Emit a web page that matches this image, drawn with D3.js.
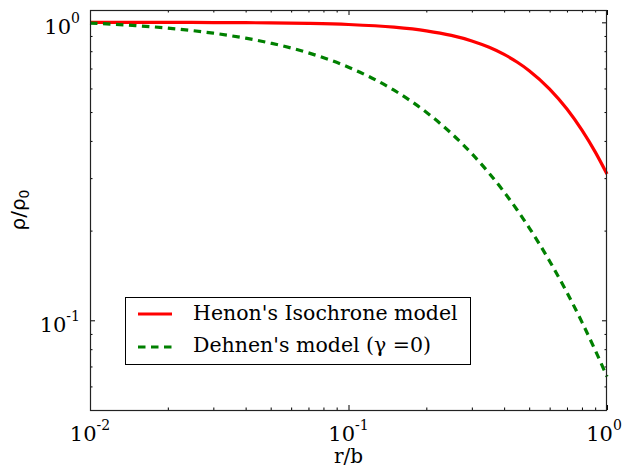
<!DOCTYPE html>
<html><head><meta charset="utf-8">
<script src="https://cdn.jsdelivr.net/npm/d3@7"></script>
<style>body{margin:0;background:#fff}svg{display:block}</style>
</head><body>
<svg id="c" width="628" height="471"></svg>
<script>
// Data
const radius = [0.01, 0.015, 0.02, 0.03, 0.04, 0.05, 0.07, 0.1, 0.15, 0.2, 0.25, 0.3, 0.35, 0.4, 0.45, 0.5, 0.6, 0.7, 0.8, 0.9, 1.0];
const henonDensity = [0.9998, 0.9996, 0.9993, 0.9985, 0.9974, 0.9959, 0.9919, 0.9836, 0.9636, 0.9367, 0.9038, 0.8660, 0.8244, 0.7803, 0.7345, 0.6882, 0.5970, 0.5116, 0.4347, 0.3674, 0.3096];
const dehnenDensity = [0.9946, 0.9751, 0.9562, 0.9196, 0.8847, 0.8515, 0.7896, 0.7069, 0.5918, 0.4991, 0.4239, 0.3624, 0.3116, 0.2694, 0.2341, 0.2044, 0.1579, 0.1239, 0.0986, 0.0794, 0.0647];
const xMajorTicks = [0.01, 0.1, 1];
const xMajorExp = ["-2", "-1", "0"];
const yMajorTicks = [0.1, 1];
const yMajorExp = ["-1", "0"];
const xMinorTicks = [0.02,0.03,0.04,0.05,0.06,0.07,0.08,0.09,0.2,0.3,0.4,0.5,0.6,0.7,0.8,0.9];
const yMinorTicks = [0.05,0.06,0.07,0.08,0.09,0.2,0.3,0.4,0.5,0.6,0.7,0.8,0.9];
const seriesNames = ["Henon's Isochrone model", "Dehnen's model (\u03b3 =0)"];

const L = 90, R = 607, T = 10, B = 410;
const svg = d3.select("#c");
const x = d3.scaleLog().domain([0.01, 1]).range([L, R]);
const y = d3.scaleLog().domain([0.05, 1.1]).range([B, T]);

// ticks (inward, all sides)
function axisGroup(axis, tr) {
  const g = svg.append("g").attr("transform", tr).call(axis);
  g.select(".domain").remove();
  g.selectAll("text").remove();
  g.selectAll("line").attr("stroke", "#000").attr("stroke-width", 1);
  return g;
}
axisGroup(d3.axisBottom(x).tickValues(xMajorTicks).tickSize(-5), `translate(0,${B})`);
axisGroup(d3.axisBottom(x).tickValues(xMinorTicks).tickSize(-2.5), `translate(0,${B})`);
axisGroup(d3.axisTop(x).tickValues(xMajorTicks).tickSize(-5), `translate(0,${T})`);
axisGroup(d3.axisTop(x).tickValues(xMinorTicks).tickSize(-2.5), `translate(0,${T})`);
axisGroup(d3.axisLeft(y).tickValues(yMajorTicks).tickSize(-5), `translate(${L},0)`);
axisGroup(d3.axisLeft(y).tickValues(yMinorTicks).tickSize(-2.5), `translate(${L},0)`);
axisGroup(d3.axisRight(y).tickValues(yMajorTicks).tickSize(-5), `translate(${R},0)`);
axisGroup(d3.axisRight(y).tickValues(yMinorTicks).tickSize(-2.5), `translate(${R},0)`);

// curves
const pts = (vals) => radius.map((r, i) => [r, vals[i]]);
const line = d3.line().x(d => x(d[0])).y(d => y(d[1])).curve(d3.curveMonotoneX);
svg.append("path").attr("d", line(pts(henonDensity))).attr("fill", "none")
  .attr("stroke", "#ff0000").attr("stroke-width", 3.2);
svg.append("path").attr("d", line(pts(dehnenDensity))).attr("fill", "none")
  .attr("stroke", "#008000").attr("stroke-width", 3.2).attr("stroke-dasharray", "7.5,5.5");

// frame
svg.append("rect").attr("x", L + 0.5).attr("y", T + 0.5).attr("width", R - L - 1).attr("height", B - T)
  .attr("fill", "none").attr("stroke", "#222").attr("stroke-width", 1.2);

const serif = "'DejaVu Serif', serif";
// x tick labels
xMajorTicks.forEach((v, i) => {
  const t = svg.append("text").attr("x", Math.min(x(v), 604)).attr("y", 441).attr("text-anchor", "middle")
    .attr("font-family", serif).attr("font-size", 21);
  t.append("tspan").text("10");
  t.append("tspan").attr("dy", -11).attr("font-size", 14).text(xMajorExp[i]);
});
// y tick labels
yMajorTicks.forEach((v, i) => {
  const t = svg.append("text").attr("x", 80).attr("y", y(v) + 12).attr("text-anchor", "end")
    .attr("font-family", serif).attr("font-size", 21);
  t.append("tspan").text("10");
  t.append("tspan").attr("dy", -11).attr("font-size", 14).text(yMajorExp[i]);
});
// axis labels
svg.append("text").attr("x", (L + R) / 2).attr("y", 463).attr("text-anchor", "middle")
  .attr("font-family", serif).attr("font-size", 20).text("r/b");
const yl = svg.append("text").attr("transform", `translate(25,${(T + B) / 2}) rotate(-90)`)
  .attr("text-anchor", "middle").attr("font-family", "'DejaVu Sans', sans-serif").attr("font-size", 20);
yl.append("tspan").text("\u03c1/\u03c1");
yl.append("tspan").attr("dy", 4).attr("font-size", 14).text("0");

// legend
svg.append("rect").attr("x", 125.5).attr("y", 297.5).attr("width", 345).attr("height", 67)
  .attr("fill", "#fff").attr("stroke", "#000").attr("stroke-width", 1);
const legendColors = ["#ff0000", "#008000"];
const legendDash = [null, "7.5,5.5"];
const legendLineY = [314, 347];
const legendTextY = [320, 352];
seriesNames.forEach((name, i) => {
  svg.append("line").attr("x1", 138).attr("x2", 172).attr("y1", legendLineY[i]).attr("y2", legendLineY[i])
    .attr("stroke", legendColors[i]).attr("stroke-width", 3.2).attr("stroke-dasharray", legendDash[i]);
  svg.append("text").attr("x", 193).attr("y", legendTextY[i]).attr("font-family", serif).attr("font-size", 20.5)
    .text(name);
});
</script>
</body></html>
